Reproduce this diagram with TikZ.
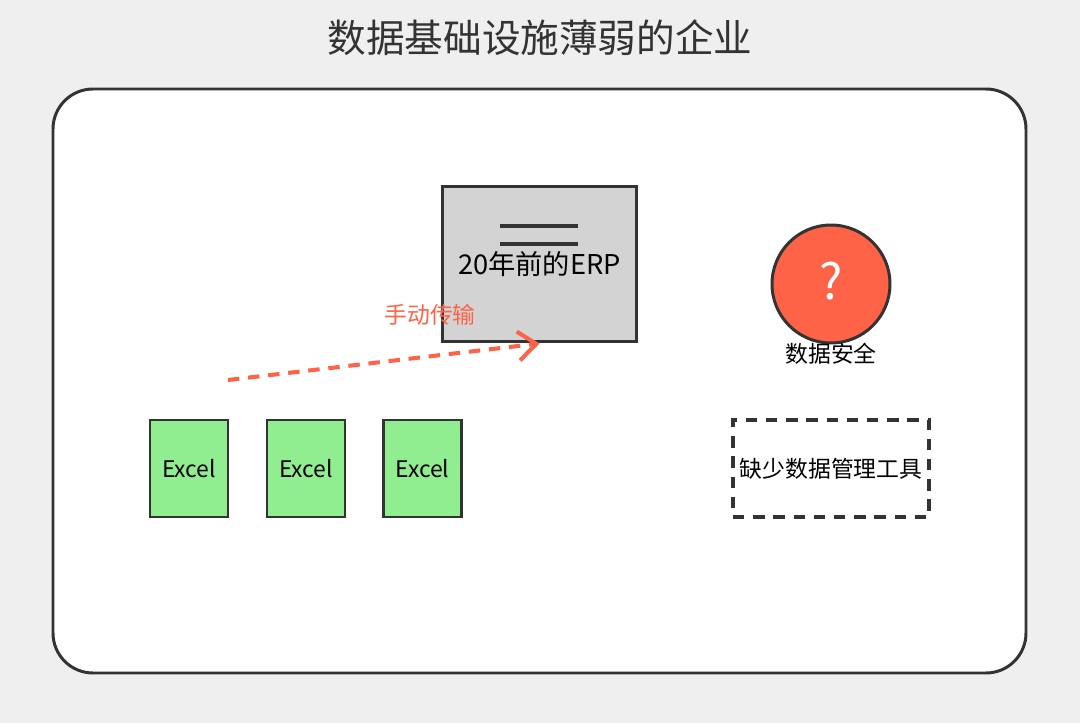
\documentclass[tikz,border=0pt]{standalone}
\usepackage{fontspec}
\setmainfont{Noto Sans CJK SC}
\usetikzlibrary{arrows.meta}
\definecolor{bggray}{RGB}{239,239,239}
\definecolor{dgray}{RGB}{51,51,51}
\definecolor{ttomato}{RGB}{255,99,71}
\definecolor{lgreen}{RGB}{144,238,144}
\definecolor{erpgray}{RGB}{211,211,211}

\begin{document}
\begin{tikzpicture}[x=0.02cm, y=-0.02cm,
    excelbox/.style={draw=dgray, line width=1.2pt, fill=lgreen, minimum width=1.56cm, minimum height=1.94cm, inner sep=0pt, font=\fontsize{13}{15}\selectfont},
    txt/.style={inner sep=0pt, font=\fontsize{13}{15}\selectfont}]
    % canvas, 1px = 0.02cm
    \fill[bggray] (0, 0) rectangle (1080, 723);
    \useasboundingbox (0, 0) rectangle (1080, 723);

    \node[inner sep=0pt, text=dgray, font=\fontsize{22}{26}\selectfont] (title) at (540, 38) {数据基础设施薄弱的企业};
    \draw[dgray, fill=white, line width=1.7pt, rounded corners=0.8cm] (53, 89) rectangle (1026, 673);

    % old ERP
    \node[draw=dgray, fill=erpgray, line width=1.7pt, minimum width=3.9cm, minimum height=3.12cm, inner sep=0pt,
          font=\fontsize{15.5}{18}\selectfont] (erp) at (539.5, 264) {20年前的ERP};
    \draw[dgray, line width=2.3pt] ([shift={(-40,-38)}]erp.center) -- ([shift={(38,-38)}]erp.center);
    \draw[dgray, line width=2.3pt] ([shift={(-40,-20)}]erp.center) -- ([shift={(38,-20)}]erp.center);

    % manual transfer
    \coordinate (src) at (228, 380);
    \node[txt, text=ttomato] (manual) at (430, 315) {手动传输};
    \draw[ttomato, line width=2.3pt, dash pattern=on 6.5pt off 5pt, -{Straight Barb[length=3.6mm, width=5.8mm, line width=2.3pt]}] (src) -- (erp.south);

    % excel files
    \node[excelbox] (xl1) at (189, 468.5) {Excel};
    \node[excelbox] (xl2) at (306, 468.5) {Excel};
    \node[excelbox] (xl3) at (422.5, 468.5) {Excel};

    % security
    \node[circle, draw=dgray, fill=ttomato, line width=1.7pt, minimum size=2.36cm, inner sep=0pt,
          text=white, font=\fontsize{28}{32}\selectfont] (sec) at (831, 284) {\raisebox{3.5pt}{?}};
    \node[txt] (seclbl) at (831, 354) {数据安全};

    % tools
    \node[draw=dgray, line width=2pt, dash pattern=on 6.5pt off 5pt, minimum width=3.92cm, minimum height=1.94cm, inner sep=0pt,
          font=\fontsize{13}{15}\selectfont] (tools) at (831, 468.5) {缺少数据管理工具};
\end{tikzpicture}
\end{document}
